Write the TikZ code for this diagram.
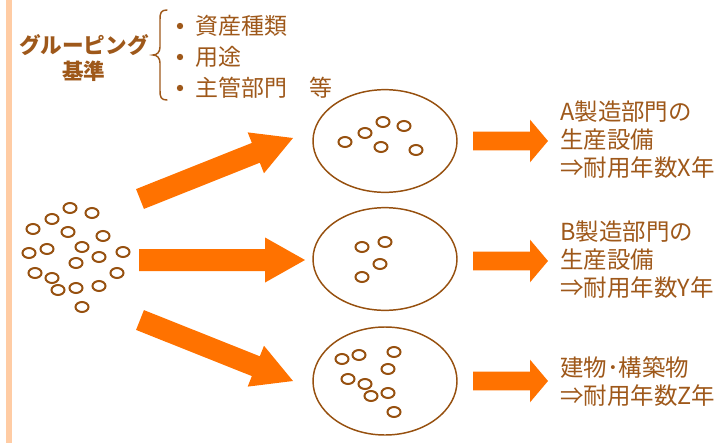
\documentclass[tikz,border=0pt]{standalone}
\usepackage{fontspec}
\setmainfont{Noto Sans CJK JP}
\usetikzlibrary{shapes.geometric,calc}
\definecolor{txtbrown}{RGB}{158,88,26}
\definecolor{ringbrown}{RGB}{150,80,15}
\definecolor{arroworange}{RGB}{255,114,0}
\definecolor{barpeach}{RGB}{255,204,164}
\newcommand\blockarrow[5]{%
  \coordinate (hb) at ($(#2)!#5!(#1)$);
  \fill[arroworange] ($(#1)!#3!90:(#2)$) -- ($(hb)!#3!90:(#2)$) -- ($(hb)!#4!90:(#2)$) -- (#2)
    -- ($(hb)!#4!-90:(#2)$) -- ($(hb)!#3!-90:(#2)$) -- ($(#1)!#3!-90:(#2)$) -- cycle;
}
\tikzset{
  ring/.style={draw=ringbrown, line width=1.5pt, ellipse, inner sep=0pt, minimum width=9.75pt, minimum height=7.5pt},
  group/.style={draw=ringbrown, line width=1.1pt, ellipse, inner sep=0pt, minimum width=108pt, minimum height=77pt},
  dot/.style={circle, fill=txtbrown, inner sep=0pt, minimum size=4.8pt},
  item/.style={anchor=west, inner sep=0pt, text=txtbrown, font=\fontsize{17.2}{20}\selectfont},
  result/.style={anchor=west, inner sep=0pt, text=txtbrown, align=left, font=\fontsize{17.6}{21}\selectfont},
  head/.style={inner sep=0pt, text=txtbrown, align=center, font=\fontsize{16.2}{20}\selectfont\bfseries},
}
\begin{document}
\begin{tikzpicture}[x=0.75pt,y=-0.75pt]
\useasboundingbox (0,0) rectangle (722,443);
% left bar
\fill[barpeach] (6,0) rectangle (12,443);
% heading
\node[head] (crit) at (84,58) {グルーピング\\基準};
% brace
\draw[txtbrown, line width=1.1pt, line cap=round]
  (167,10) .. controls (161,10) and (160,13) .. (160,19) -- (160,47)
  .. controls (160,52) and (157,55) .. (153,55)
  .. controls (157,55) and (160,58) .. (160,63) -- (160,91)
  .. controls (160,97) and (161,100) .. (167,100);
% bullets
\node[dot] (d1) at (180,26) {};
\node[dot] (d2) at (180,57) {};
\node[dot] (d3) at (180,88) {};
\node[item] (b1) at (195,26) {資産種類};
\node[item] (b2) at (195,57) {用途};
\node[item] (b3) at (195,88) {主管部門　等};
% left cluster
\foreach \x/\y [count=\i] in {70/208,92/213,52/219,33/229,68/232,103/236,47/249,29/253,82/247,99/257,123/252,76/263,35/273,52/278,117/273,58/290,76/288,99/286,82/307}
  \node[ring] (L\i) at (\x,\y) {};
% groups
\node[group] (gA) at (385,141) {};
\node[group] (gB) at (385,259) {};
\node[group, minimum height=81pt] (gC) at (385,381) {};
\foreach \x/\y [count=\i] in {345/142,365/133,383/122,404/126,381/147,416/150}
  \node[ring] (A\i) at (\x,\y) {};
\foreach \x/\y [count=\i] in {362/247,385/242,380/264,362/277}
  \node[ring] (B\i) at (\x,\y) {};
\foreach \x/\y [count=\i] in {342/359,359/355,394/352,388/369,348/379,365/384,371/396,388/393,394/412}
  \node[ring] (C\i) at (\x,\y) {};
% big arrows
\coordinate (t1) at (140,199); \coordinate (p1) at (293,138);
\coordinate (t2) at (139,260); \coordinate (p2) at (305,260);
\coordinate (t3) at (140,320); \coordinate (p3) at (293,381);
\blockarrow{t1}{p1}{8pt}{16.5pt}{30pt}
\blockarrow{t2}{p2}{8.25pt}{16.9pt}{30pt}
\blockarrow{t3}{p3}{8pt}{16.5pt}{30pt}
% right arrows
\coordinate (r1) at (473,141); \coordinate (s1) at (548,141);
\coordinate (r2) at (473,261); \coordinate (s2) at (548,261);
\coordinate (r3) at (473,381); \coordinate (s3) at (548,381);
\blockarrow{r1}{s1}{7.1pt}{16pt}{13.5pt}
\blockarrow{r2}{s2}{7.1pt}{16pt}{13.5pt}
\blockarrow{r3}{s3}{7.1pt}{16pt}{13.5pt}
% results
\node[result] (resA) at (560,140) {A製造部門の\\生産設備\\⇒耐用年数X年};
\node[result] (resB) at (560,260) {B製造部門の\\生産設備\\⇒耐用年数Y年};
\node[result] (resC) at (560,382) {建物･構築物\\⇒耐用年数Z年};
\end{tikzpicture}
\end{document}
